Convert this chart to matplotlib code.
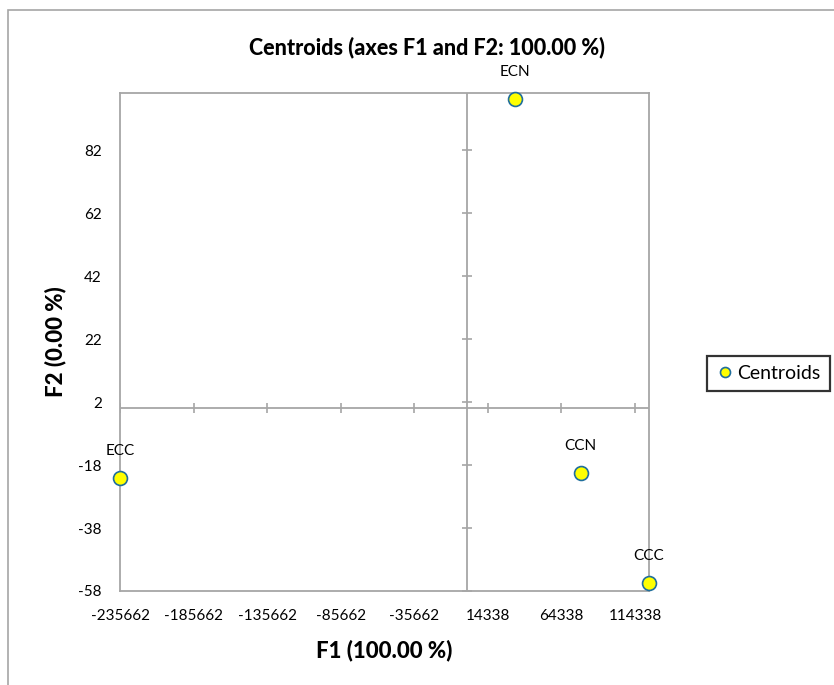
import matplotlib.pyplot as plt
from matplotlib.patches import Rectangle

plt.rcParams['font.family'] = ['Lato', 'DejaVu Sans']
plt.rcParams['axes.unicode_minus'] = False

# centroid coordinates
groups = ["ECN", "ECC", "CCN", "CCC"]
f1 = [32800, -235662, 77400, 123860]
f2 = [98.2, -22.0, -20.5, -55.5]

x_ticks = [-235662, -185662, -135662, -85662, -35662, 14338, 64338, 114338]
y_ticks = [-58, -38, -18, 2, 22, 42, 62, 82]

axis_grey = "#A6A6A6"

fig = plt.figure(figsize=(8.34, 6.85), dpi=100)
ax = fig.add_axes([120 / 834, 1 - 591 / 685, 529 / 834, 498 / 685])

# outer chart frame (runs off the right and bottom edges)
fig.patches.append(Rectangle((8 / 834, -0.1), 1.2, 1.1 - 10 / 685, transform=fig.transFigure,
                             fill=False, edgecolor=axis_grey, linewidth=1.2))

ax.set_xlim(min(f1), max(f1))
ax.set_ylim(-58, 100.1)

for sp in ax.spines.values():
    sp.set_color(axis_grey)
    sp.set_linewidth(1.3)

# zero lines
ax.axhline(0, color=axis_grey, linewidth=1.3, zorder=1)
ax.axvline(0, color=axis_grey, linewidth=1.3, zorder=1)

# tick marks sit on the zero lines, labels stay on the frame
ax.set_xticks(x_ticks)
ax.set_yticks(y_ticks)
ax.tick_params(axis="x", length=0, labelsize=11, pad=13)
ax.tick_params(axis="y", length=0, labelsize=11, pad=13)
ax.plot(x_ticks, [0] * len(x_ticks), linestyle="none", marker="|", markersize=7.5,
        color=axis_grey, markeredgewidth=1.2, zorder=1)
ax.plot([0] * len(y_ticks), y_ticks, linestyle="none", marker="_", markersize=7.5,
        color=axis_grey, markeredgewidth=1.2, zorder=1)

ax.plot(f1, f2, linestyle="none", marker="o", markersize=10, markerfacecolor="#FFFF00",
        markeredgecolor="#1F6E9C", markeredgewidth=1.2, clip_on=False, zorder=3,
        label="Centroids")

for name, x, y in zip(groups, f1, f2):
    ax.annotate(name, (x, y), xytext=(0, 19.5), textcoords="offset points",
                ha="center", va="center", fontsize=11, annotation_clip=False)

# title is centred on the whole chart area, not on the plot box
fig.suptitle("Centroids (axes F1 and F2: 100.00 %)", x=427 / 834, y=1 - 47 / 685,
             va="center", fontsize=15.5, fontweight="black")
ax.set_xlabel("F1 (100.00 %)", fontsize=16, fontweight="black", labelpad=12)
ax.set_ylabel("F2 (0.00 %)", fontsize=16, fontweight="black", labelpad=9)

leg = fig.legend(loc="center", bbox_to_anchor=(768.5 / 834, 1 - 373.5 / 685), fontsize=14,
                 frameon=True, fancybox=False, handletextpad=0.2, borderpad=0.45,
                 handlelength=0.9, markerscale=0.72)
leg.get_frame().set_edgecolor("black")
leg.get_frame().set_linewidth(1.6)

fig.savefig("out.png", dpi=100)
